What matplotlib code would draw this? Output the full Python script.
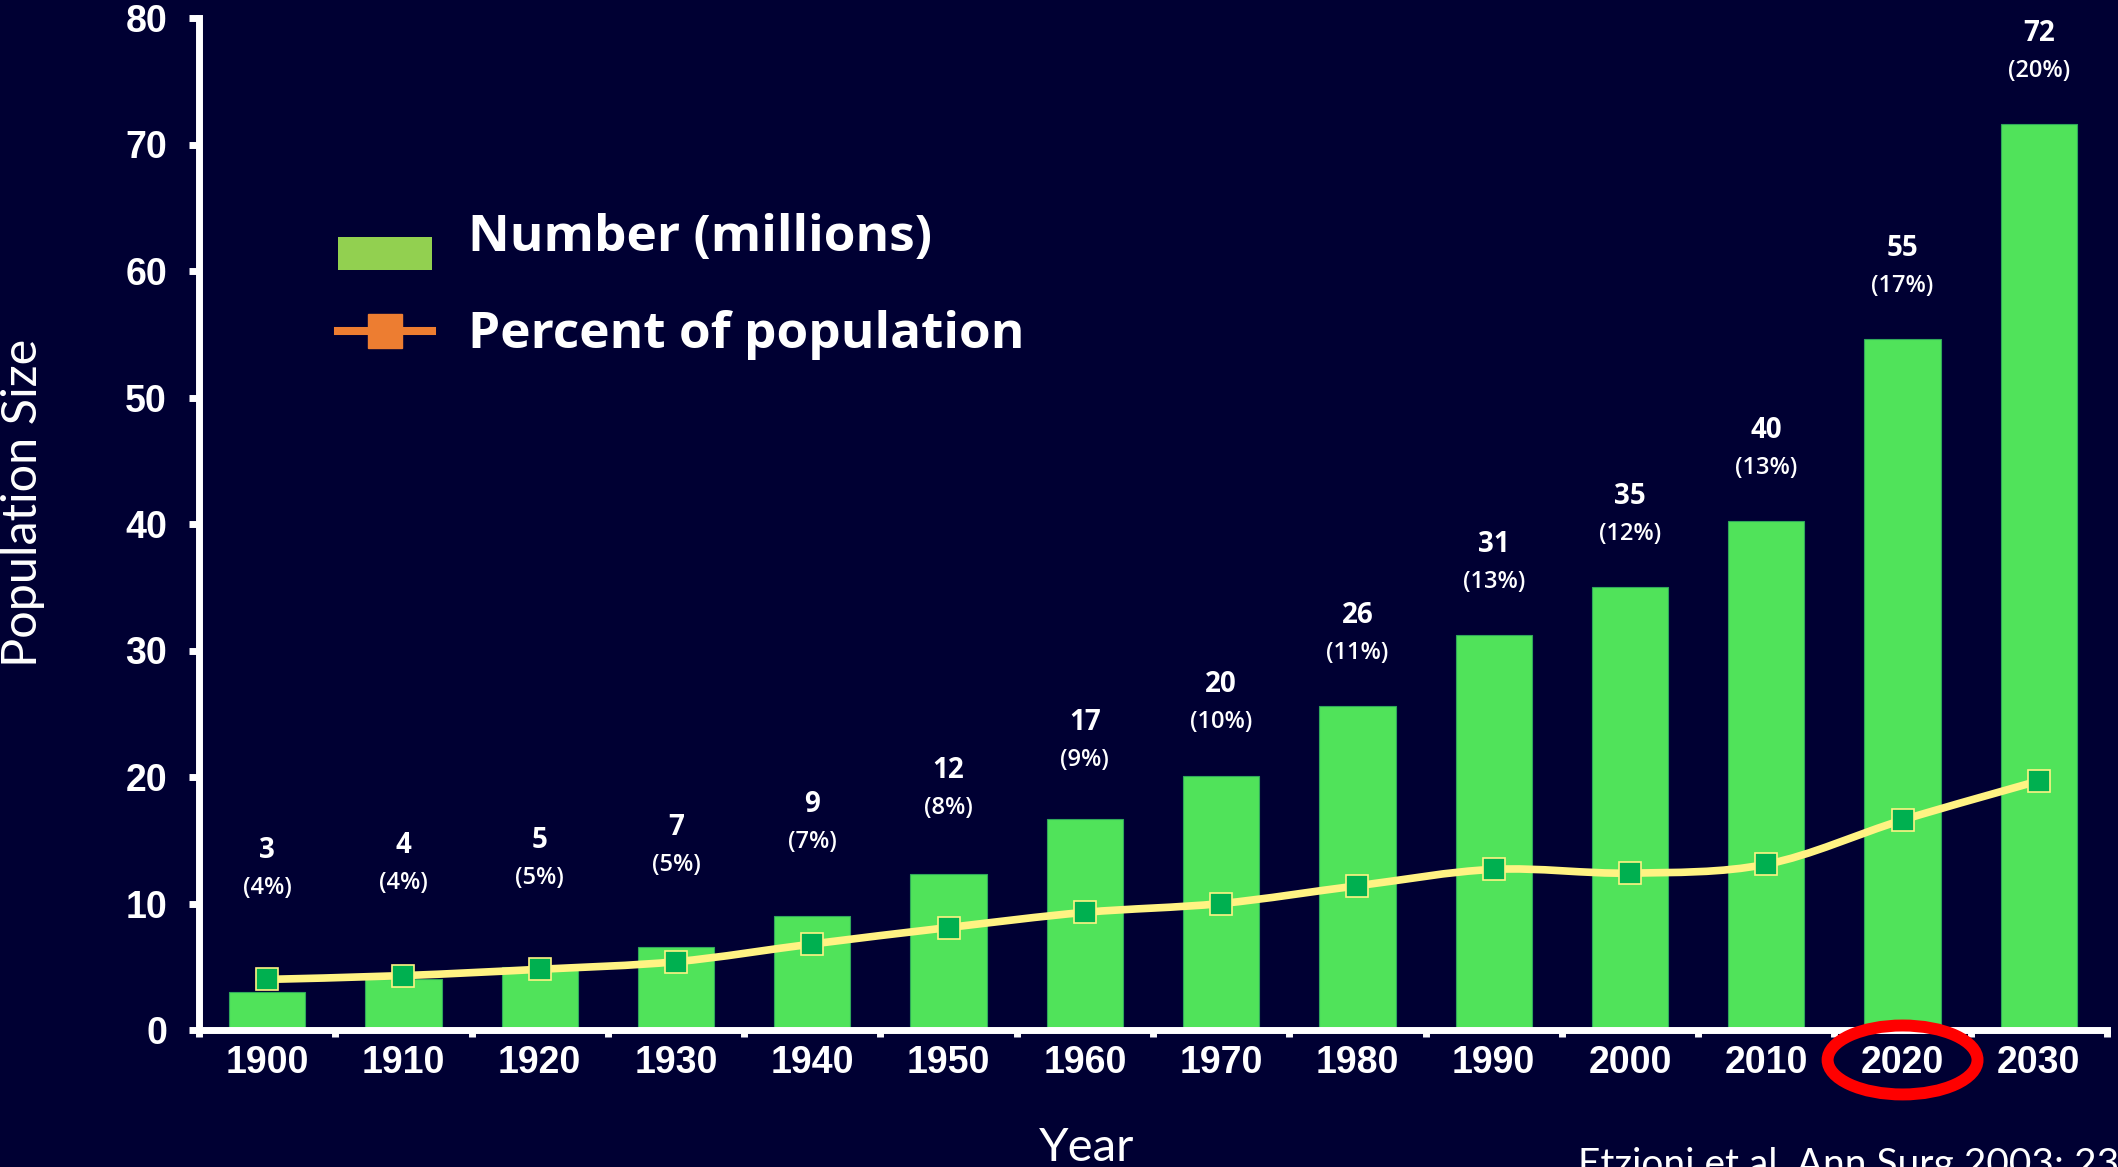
import matplotlib
matplotlib.use("Agg")
import matplotlib.pyplot as plt
import numpy as np
from matplotlib.path import Path
from matplotlib.patches import PathPatch, Patch, Ellipse, Rectangle
from matplotlib.lines import Line2D
from matplotlib.legend_handler import HandlerPatch
from matplotlib.font_manager import FontProperties

years = ["1900", "1910", "1920", "1930", "1940", "1950", "1960",
         "1970", "1980", "1990", "2000", "2010", "2020", "2030"]
# population aged 65+ in millions, and share of the total population (%)
number_millions = [3.0, 4.0, 5.0, 6.6, 9.0, 12.3, 16.7,
                   20.1, 25.6, 31.2, 35.0, 40.2, 54.6, 71.6]
percent_pop = [4.0, 4.3, 4.8, 5.4, 6.8, 8.1, 9.3,
               10.0, 11.4, 12.7, 12.4, 13.1, 16.6, 19.7]

BG = "#000033"
BAR = "#50E35A"
LINE = "#FFF383"
MARKER = "#00B050"
WHITE = "white"


def smooth_path(xs, ys):
    """Cubic Bezier path through every point (Excel-style smoothed line)."""
    pts = np.column_stack([xs, ys]).astype(float)
    n = len(pts)
    verts = [pts[0]]
    codes = [Path.MOVETO]
    for i in range(n - 1):
        p0 = pts[max(i - 1, 0)]
        p1 = pts[i]
        p2 = pts[i + 1]
        p3 = pts[min(i + 2, n - 1)]
        verts += [p1 + (p2 - p0) / 6, p2 - (p3 - p1) / 6, p2]
        codes += [Path.CURVE4] * 3
    return Path(verts, codes)


def low_patch(legend, orig_handle, xdescent, ydescent, width, height, fontsize):
    # legend swatch sitting a little below the text centre
    return Rectangle((-xdescent, -ydescent - 0.4 * fontsize), width, height)


fig = plt.figure(figsize=(21.18, 11.67), dpi=100)
fig.patch.set_facecolor(BG)
ax = fig.add_axes([199 / 2118, 1 - 1030 / 1167, 1908 / 2118, 1012 / 1167])
ax.set_facecolor(BG)

x = np.arange(len(years))
ax.bar(x, number_millions, width=0.56, color=BAR, edgecolor="#2FA85A",
       linewidth=0.8, zorder=2)

ax.add_patch(PathPatch(smooth_path(x, percent_pop), facecolor="none",
                       edgecolor=LINE, lw=5.5, capstyle="round", zorder=3))
ax.plot(x, percent_pop, ls="none", marker="s", ms=16.5, mfc=MARKER,
        mec=LINE, mew=1.2, zorder=4)

# value labels above each bar; early ones sit higher to clear the line
label_gap = np.maximum(7.2, 11.2 - 0.6 * x)
for i, (n, p) in enumerate(zip(number_millions, percent_pop)):
    y = n + label_gap[i]
    ax.text(i, y, f"{n:.0f}", ha="center", va="center", color=WHITE,
            fontsize=20, fontweight="bold", family="Open Sans", zorder=5)
    ax.annotate(f"({p:.0f}%)", xy=(i, y), xytext=(0, -27),
                textcoords="offset points", ha="center", va="center",
                color=WHITE, fontsize=17, fontweight="semibold",
                family="Open Sans")

ax.set_xlim(-0.5, len(years) - 0.5)
ax.set_ylim(0, 80)

for side in ["top", "right"]:
    ax.spines[side].set_visible(False)
for side in ["left", "bottom"]:
    ax.spines[side].set_color(WHITE)
    ax.spines[side].set_linewidth(5)

tick_font = dict(fontsize=27, fontweight="bold", family="Liberation Sans", color=WHITE)
ax.set_yticks(range(0, 81, 10))
ax.set_yticklabels([str(v) for v in range(0, 81, 10)], **tick_font)
ax.tick_params(axis="y", direction="out", length=7, width=5, color=WHITE, pad=16)

ax.set_xticks(x)
ax.set_xticklabels(years, **tick_font)
ax.set_xticks(np.arange(-0.5, len(years), 1.0), minor=True)
ax.tick_params(axis="x", which="major", length=0, pad=11)
ax.tick_params(axis="x", which="minor", direction="out", length=5, width=5,
               color=WHITE)

# highlight the current decade
ax.add_patch(Ellipse((12, -2.37), width=1.1, height=5.45, fill=False,
                     edgecolor="#FF0000", lw=8.6, clip_on=False, zorder=6))

handles = [
    Patch(facecolor="#92D050", edgecolor="none"),
    Line2D([], [], color="#ED7D31", lw=5.8, marker="s", markersize=25,
           markerfacecolor="#ED7D31", markeredgecolor="#ED7D31"),
]
leg = ax.legend(handles, ["Number (millions)", "Percent of population"],
                loc="upper left", bbox_to_anchor=(338 / 2118, 1 - 213 / 1167),
                bbox_transform=fig.transFigure, frameon=False,
                prop=FontProperties(family="Open Sans", weight="bold", size=37),
                handlelength=1.82, handleheight=0.6, handletextpad=0.7,
                labelspacing=0.92, borderpad=0, borderaxespad=0,
                handler_map={Patch: HandlerPatch(patch_func=low_patch)})
for t in leg.get_texts():
    t.set_color(WHITE)

fig.text(23 / 2118, 1 - 503 / 1167, "Population Size", rotation=90,
         ha="center", va="center", color=WHITE, fontsize=35, family="Lato")
fig.text(1087 / 2118, 1 - 1148 / 1167, "Year", ha="center", va="center",
         color=WHITE, fontsize=34, family="Lato")
fig.text(1578 / 2118, 1 - 1147 / 1167, "Etzioni et al. Ann Surg 2003; 238:170-177",
         ha="left", va="top", color=WHITE, fontsize=28, family="Lato")

fig.savefig("out.png", dpi=100, facecolor=BG)
